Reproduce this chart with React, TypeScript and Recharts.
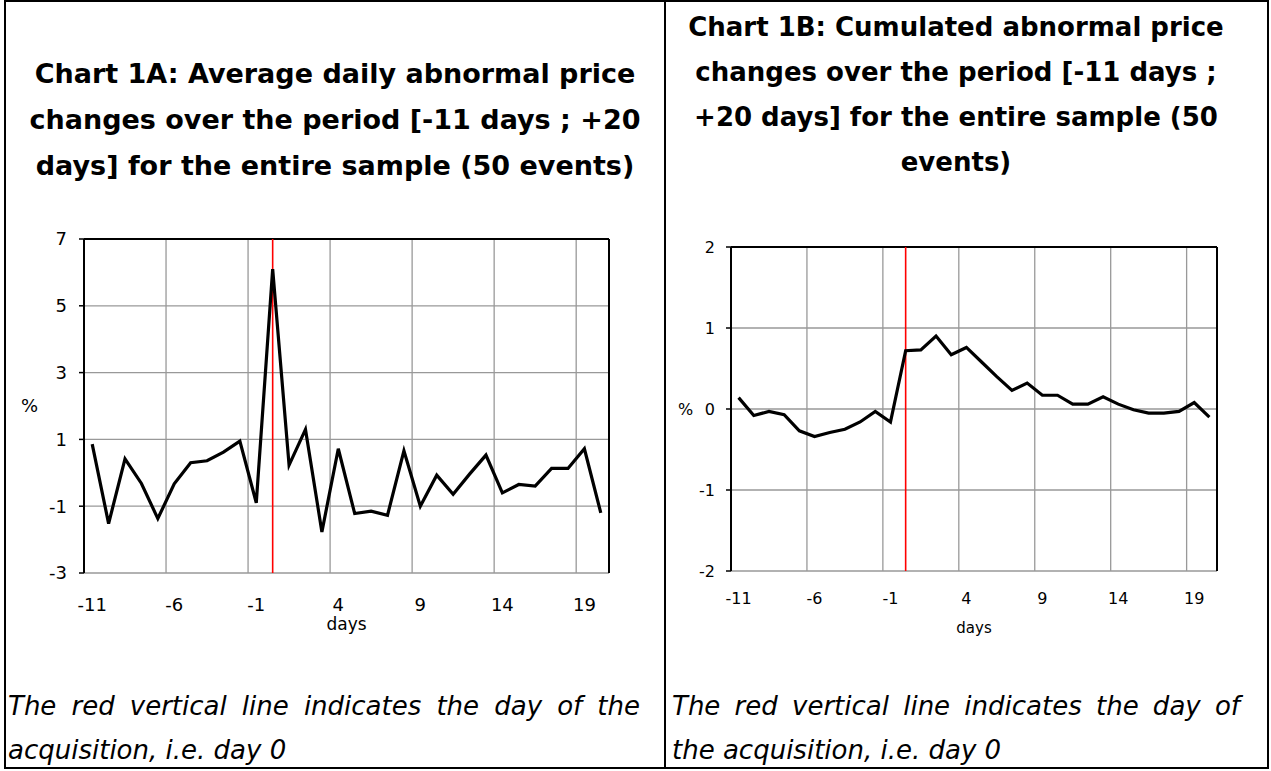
import React from 'react'
import { LineChart, Line, XAxis, YAxis, CartesianGrid, ReferenceLine, Label } from 'recharts'

// event window, day -11 to day +20
const days = [-11, -10, -9, -8, -7, -6, -5, -4, -3, -2, -1, 0, 1, 2, 3, 4, 5, 6, 7, 8, 9, 10, 11, 12, 13, 14, 15, 16, 17, 18, 19, 20]

// Chart 1A: average daily abnormal price changes (%)
const avgDaily = [0.86, -1.52, 0.42, -0.32, -1.37, -0.33, 0.3, 0.36, 0.62, 0.95, -0.9, 6.1, 0.23, 1.3, -1.77, 0.72, -1.22, -1.15, -1.27, 0.66, -1.0, -0.07, -0.64, -0.04, 0.53, -0.6, -0.35, -0.4, 0.13, 0.13, 0.72, -1.2]

// Chart 1B: cumulated abnormal price changes (%)
const cumulated = [0.14, -0.08, -0.03, -0.07, -0.27, -0.34, -0.29, -0.25, -0.16, -0.03, -0.16, 0.72, 0.73, 0.9, 0.67, 0.76, 0.58, 0.4, 0.23, 0.32, 0.17, 0.17, 0.06, 0.06, 0.15, 0.06, -0.01, -0.05, -0.05, -0.03, 0.08, -0.1]

const dayTicks = [-11, -6, -1, 4, 9, 14, 19]
const gridDays = [-11.5, -6.5, -1.5, 3.5, 8.5, 13.5, 18.5]
const xDomain: [number, number] = [-11.5, 20.5]

const avgTicks = [-3, -1, 1, 3, 5, 7]
const cumTicks = [-2, -1, 0, 1, 2]

const titleA = [
  'Chart 1A: Average daily abnormal price',
  'changes over the period [-11 days ; +20',
  'days] for the entire sample (50 events)'
]
const titleB = [
  'Chart 1B: Cumulated abnormal price',
  'changes over the period [-11 days ;',
  '+20 days] for the entire sample (50',
  'events)'
]
const captionA = ['The red vertical line indicates the day of the', 'acquisition, i.e. day 0']
const captionB = ['The red vertical line indicates the day of', 'the acquisition, i.e. day 0']

const AXIS_FONT = '"DejaVu Sans", Verdana, sans-serif'
const TEXT_FONT = '"DejaVu Sans", Verdana, sans-serif'

interface ChartProps {
  values: number[]
  yTicks: number[]
  width: number
  height: number
  margin: { top: number; right: number; bottom: number; left: number }
  yAxisWidth: number
  labelAxisHeight: number
  xTickMargin: number
  yTickMargin: number
  tickFont: number
  daysFont: number
  pctOffset: number
}

function EventChart(p: ChartProps) {
  const data = days.map((d, i) => ({ day: d, value: p.values[i] }))
  const yMin = p.yTicks[0]
  const yMax = p.yTicks[p.yTicks.length - 1]
  return (
    <LineChart width={p.width} height={p.height} data={data} margin={p.margin}>
      <CartesianGrid xAxisId="grid" stroke="#999999" strokeWidth={1.3} />
      <XAxis
        xAxisId="grid"
        dataKey="day"
        type="number"
        domain={xDomain}
        ticks={gridDays}
        height={0}
        tickFormatter={() => ''}
        axisLine={{ stroke: '#000', strokeWidth: 2 }}
        tickLine={{ stroke: '#000', strokeWidth: 1.5 }}
        tickSize={5}
      />
      <XAxis
        xAxisId="lab"
        dataKey="day"
        type="number"
        domain={xDomain}
        ticks={dayTicks}
        interval={0}
        height={p.labelAxisHeight}
        axisLine={false}
        tickLine={false}
        tickSize={0}
        tickMargin={p.xTickMargin}
        tick={{ fill: '#000', fontSize: p.tickFont, fontFamily: AXIS_FONT }}
      >
        <Label value="days" position="insideBottom" offset={0} fill="#000" fontSize={p.daysFont} fontFamily={AXIS_FONT} />
      </XAxis>
      <YAxis
        type="number"
        domain={[yMin, yMax]}
        ticks={p.yTicks}
        interval={0}
        width={p.yAxisWidth}
        axisLine={{ stroke: '#000', strokeWidth: 2 }}
        tickLine={{ stroke: '#000', strokeWidth: 1.5 }}
        tickSize={5}
        tickMargin={p.yTickMargin}
        tick={{ fill: '#000', fontSize: p.tickFont, fontFamily: AXIS_FONT }}
      >
        <Label value="%" position="insideLeft" offset={p.pctOffset} fill="#000" fontSize={p.tickFont} fontFamily={AXIS_FONT} />
      </YAxis>
      <ReferenceLine xAxisId="grid" y={yMax} stroke="#000" strokeWidth={2} />
      <ReferenceLine xAxisId="grid" x={xDomain[1]} stroke="#000" strokeWidth={2} />
      <ReferenceLine xAxisId="grid" x={0} stroke="#ff0000" strokeWidth={1.6} />
      <Line
        xAxisId="grid"
        dataKey="value"
        type="linear"
        stroke="#000"
        strokeWidth={3.2}
        dot={false}
        isAnimationActive={false}
      />
    </LineChart>
  )
}

const line = (left: number, top: number, width: number, height: number) => (
  <div style={{ position: 'absolute', left, top, width, height, background: '#000' }} />
)

export default function App() {
  return (
    <div style={{ position: 'absolute', left: 0, top: 0, width: 1271, height: 771, background: '#fff', overflow: 'hidden' }}>
      {line(4, 0, 1265, 2)}
      {line(4, 767, 1265, 2)}
      {line(4, 0, 2, 769)}
      {line(1267, 0, 2, 769)}
      {line(664, 0, 2, 769)}

      <div style={{ position: 'absolute', left: 6, top: 51, width: 658, textAlign: 'center', fontFamily: TEXT_FONT, fontWeight: 'bold', fontSize: 27, lineHeight: '46px', color: '#000' }}>
        {titleA.map((t, i) => <div key={i}>{t}</div>)}
      </div>
      <div style={{ position: 'absolute', left: 661, top: 5, width: 590, textAlign: 'center', fontFamily: TEXT_FONT, fontWeight: 'bold', fontSize: 26, lineHeight: '45px', color: '#000' }}>
        {titleB.map((t, i) => <div key={i}>{t}</div>)}
      </div>

      <div style={{ position: 'absolute', left: 0, top: 220 }}>
        <EventChart
          values={avgDaily}
          yTicks={avgTicks}
          width={640}
          height={420}
          margin={{ top: 19, right: 31, bottom: 10, left: 0 }}
          yAxisWidth={84}
          labelAxisHeight={57}
          xTickMargin={25}
          yTickMargin={12}
          tickFont={18}
          daysFont={17}
          pctOffset={21}
        />
      </div>
      <div style={{ position: 'absolute', left: 666, top: 230 }}>
        <EventChart
          values={cumulated}
          yTicks={cumTicks}
          width={580}
          height={420}
          margin={{ top: 17, right: 29, bottom: 17, left: 0 }}
          yAxisWidth={65}
          labelAxisHeight={62}
          xTickMargin={22}
          yTickMargin={11}
          tickFont={16}
          daysFont={15}
          pctOffset={12}
        />
      </div>

      <div style={{ position: 'absolute', left: 8, top: 684, width: 632, fontFamily: TEXT_FONT, fontStyle: 'italic', fontSize: 26, lineHeight: '44px', color: '#000' }}>
        <div style={{ textAlign: 'justify', textAlignLast: 'justify' }}>{captionA[0]}</div>
        <div>{captionA[1]}</div>
      </div>
      <div style={{ position: 'absolute', left: 672, top: 684, width: 568, fontFamily: TEXT_FONT, fontStyle: 'italic', fontSize: 26, lineHeight: '44px', color: '#000' }}>
        <div style={{ textAlign: 'justify', textAlignLast: 'justify' }}>{captionB[0]}</div>
        <div>{captionB[1]}</div>
      </div>
    </div>
  )
}
